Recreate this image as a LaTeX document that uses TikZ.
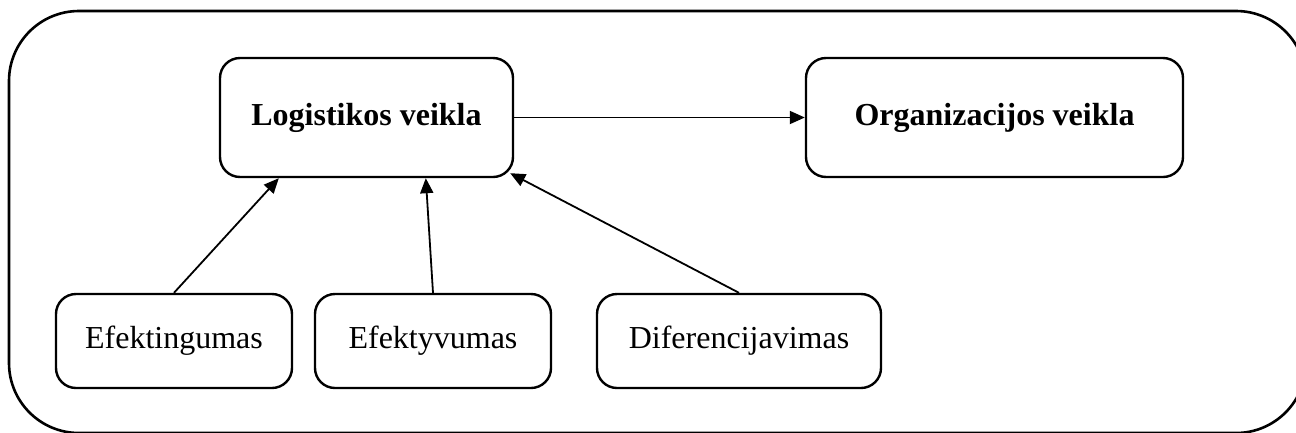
\documentclass[tikz,border=0pt]{standalone}
\usepackage{fontspec}
\setmainfont{Liberation Serif}
\usetikzlibrary{arrows.meta,calc}
\begin{document}
\begin{tikzpicture}[x=1pt,y=-1pt,
  box/.style={draw,line width=2.4pt,rounded corners=20pt,inner sep=0pt,
    font=\fontsize{32}{38}\selectfont},
  arr/.style={line width=1.8pt,-{Triangle[length=15pt,width=13pt]}}]
  \useasboundingbox[clip] (0,0) rectangle (1296,432);
  % outer frame, running off the right and bottom edges
  \draw[line width=2.6pt,rounded corners=70pt] (9,11) rectangle (1306,433);
  % upper row
  \node[box,minimum width=293pt,minimum height=119pt,font=\fontsize{32}{38}\selectfont\bfseries]
    (lv) at (366.5,117.5) {Logistikos veikla};
  \node[box,minimum width=377pt,minimum height=119pt,font=\fontsize{32}{38}\selectfont\bfseries]
    (ov) at (994.5,117.5) {Organizacijos veikla};
  % lower row
  \node[box,minimum width=236pt,minimum height=94pt] (eg) at (174,341) {Efektingumas};
  \node[box,minimum width=236pt,minimum height=94pt] (ev) at (433,341) {Efektyvumas};
  \node[box,minimum width=284pt,minimum height=94pt] (dv) at (739,341) {Diferencijavimas};
  % target points on the lower edge of the upper box
  \coordinate (t1) at ($(lv.south west)+(60,0)$);
  \coordinate (t2) at ($(lv.south west)+(207,0)$);
  \coordinate (t3) at ($(lv.south east)+(-4,-5)$);
  \draw[arr] (lv.east) -- (ov.west);
  \draw[arr] (eg.north) -- (t1);
  \draw[arr] (ev.north) -- (t2);
  \draw[arr] (dv.north) -- (t3);
\end{tikzpicture}
\end{document}
